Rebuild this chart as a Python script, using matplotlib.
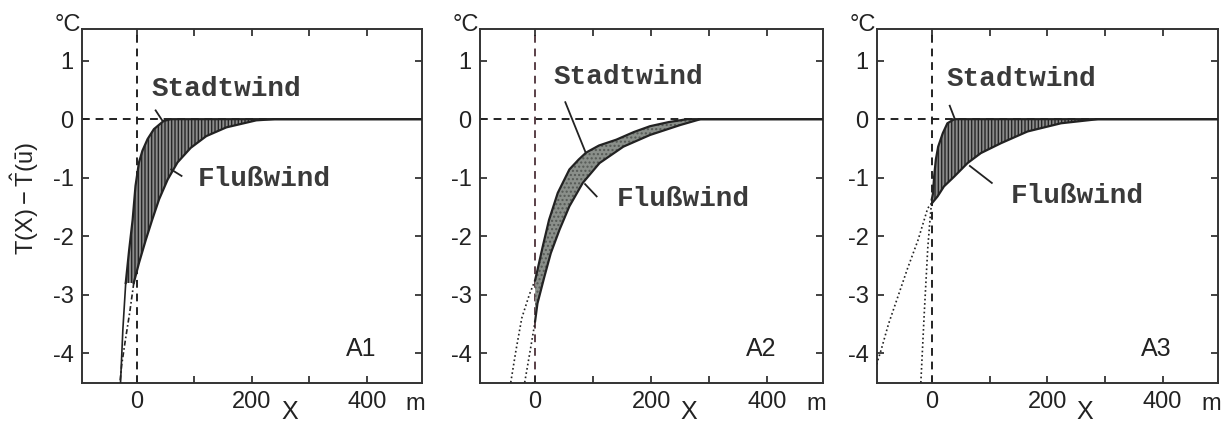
import matplotlib
matplotlib.use("Agg")
import matplotlib.pyplot as plt

plt.rcParams['font.family'] = ['Liberation Sans', 'DejaVu Sans']
plt.rcParams['axes.unicode_minus'] = False
plt.rcParams['mathtext.default'] = 'regular'
plt.rcParams['hatch.linewidth'] = 1.0

# --- data (x in m, y in degC) ---
a1_stadt_x = [-19, -13, -7, -2, 4, 10, 19, 30, 47, 60, 495]
a1_stadt_y = [-2.8, -2.23, -1.72, -1.14, -0.74, -0.54, -0.34, -0.17, -0.03, 0, 0]
a1_fluss_x = [-5, 4, 16, 27, 39, 54, 71, 94, 121, 156, 208, 240, 495]
a1_fluss_y = [-2.8, -2.46, -2.06, -1.72, -1.37, -1.03, -0.74, -0.49, -0.29, -0.14, -0.02, 0, 0]
a1_stadt_ext_x = [-19, -24, -28]
a1_stadt_ext_y = [-2.8, -3.6, -4.5]
a1_fluss_ext_x = [-5, -12, -20, -26, -29]
a1_fluss_ext_y = [-2.8, -3.3, -3.8, -4.2, -4.5]

a2_stadt_x = [0, 4, 13, 24, 39, 59, 75, 88, 110, 140, 170, 198, 230, 262, 495]
a2_stadt_y = [-2.75, -2.58, -2.18, -1.72, -1.26, -0.86, -0.69, -0.57, -0.45, -0.35, -0.22, -0.12, -0.05, 0, 0]
a2_fluss_x = [0, 4, 10, 16, 27, 42, 59, 82, 111, 152, 198, 250, 285, 495]
a2_fluss_y = [-3.45, -3.15, -2.92, -2.69, -2.29, -1.89, -1.49, -1.09, -0.75, -0.47, -0.27, -0.1, 0, 0]
a2_stadt_ext_x = [0, -10, -23, -33, -42]
a2_stadt_ext_y = [-2.75, -3.0, -3.4, -3.95, -4.5]
a2_fluss_ext_x = [0, -5, -11, -18]
a2_fluss_ext_y = [-3.45, -3.75, -4.1, -4.5]

a3_stadt_x = [0, 2, 4, 7, 11, 19, 27, 39, 495]
a3_stadt_y = [-1.37, -1.27, -0.98, -0.69, -0.47, -0.24, -0.07, 0, 0]
a3_fluss_x = [0, 10, 21, 39, 62, 85, 120, 166, 224, 288, 495]
a3_fluss_y = [-1.44, -1.32, -1.15, -0.98, -0.75, -0.58, -0.41, -0.21, -0.07, 0, 0]
a3_stadt_ext_x = [0, -3, -7, -13, -19]
a3_stadt_ext_y = [-1.37, -1.7, -2.2, -3.3, -4.5]
a3_fluss_ext_x = [0, -7, -24, -42, -59, -75, -88, -96]
a3_fluss_ext_y = [-1.44, -1.52, -2.07, -2.55, -3.04, -3.5, -3.95, -4.2]

panel_names = ['A1', 'A2', 'A3']
x_ticks = [0, 100, 200, 300, 400]
x_ticklabels = ['0', '', '200', '', '400']
y_ticks = [-4, -3, -2, -1, 0, 1]

# label / pointer positions (data coords)
stadt_text = [(26, 0.51), (31, 0.72), (26, 0.69)]
stadt_ptr = [((33, 0.15), (45, -0.03)), ((52, 0.29), (87, -0.57)), ((31, 0.23), (40, 0.0))]
fluss_text = [(106, -1.03), (141, -1.37), (136, -1.32)]
fluss_ptr = [((78, -0.97), (60, -0.86)), ((106, -1.32), (86, -1.11)), ((104, -1.09), (66, -0.8))]

panels = [
    (a1_stadt_x, a1_stadt_y, a1_fluss_x, a1_fluss_y,
     a1_stadt_ext_x, a1_stadt_ext_y, a1_fluss_ext_x, a1_fluss_ext_y),
    (a2_stadt_x, a2_stadt_y, a2_fluss_x, a2_fluss_y,
     a2_stadt_ext_x, a2_stadt_ext_y, a2_fluss_ext_x, a2_fluss_ext_y),
    (a3_stadt_x, a3_stadt_y, a3_fluss_x, a3_fluss_y,
     a3_stadt_ext_x, a3_stadt_ext_y, a3_fluss_ext_x, a3_fluss_ext_y),
]

W, H = 1226, 425
fig = plt.figure(figsize=(W / 100, H / 100), dpi=100)
boxes = [(82, 422), (480, 823), (877, 1218)]
top, bottom = 28.5, 383

ink = '#222222'
mono = ['Liberation Mono', 'DejaVu Sans Mono']

for i, (px0, px1) in enumerate(boxes):
    ax = fig.add_axes([px0 / W, (H - bottom) / H, (px1 - px0) / W, (bottom - top) / H])
    sx, sy, fx, fy, sex, sey, fex, fey = panels[i]

    ax.axhline(0, color=ink, lw=1.4, ls=(0, (4, 3)), zorder=1)
    ax.axvline(0, color='#5a4048' if i == 1 else ink, lw=1.4, ls=(0, (4, 3)), zorder=1)

    poly_x = list(sx) + list(fx)[::-1]
    poly_y = list(sy) + list(fy)[::-1]
    if i == 1:
        ax.fill(poly_x, poly_y, facecolor='#8a8f8a', edgecolor='#555955',
                hatch='....', lw=0, zorder=2)
    else:
        ax.fill(poly_x, poly_y, facecolor='#8c8c8c', edgecolor='#262626',
                hatch='|||||', lw=0, zorder=2)

    ax.plot(sx, sy, color=ink, lw=1.6, zorder=3)
    ax.plot(fx, fy, color=ink, lw=1.6, zorder=3)
    ext_style = '-' if i == 0 else (0, (1, 1.6))
    ax.plot(sex, sey, color=ink, lw=1.2, ls=ext_style, zorder=3)
    ax.plot(fex, fey, color=ink, lw=1.2,
            ls=(0, (1, 1.6)) if i else (0, (3, 1.5, 1, 1.5)), zorder=3)

    ax.text(stadt_text[i][0], stadt_text[i][1], 'Stadtwind', ha='left', va='center',
            fontsize=20, family=mono, weight='bold', color='#3a3a3a')
    ax.plot([stadt_ptr[i][0][0], stadt_ptr[i][1][0]],
            [stadt_ptr[i][0][1], stadt_ptr[i][1][1]], color=ink, lw=1.3, zorder=4)
    ax.text(fluss_text[i][0], fluss_text[i][1], 'Flußwind', ha='left', va='center',
            fontsize=20, family=mono, weight='bold', color='#3a3a3a')
    ax.plot([fluss_ptr[i][0][0], fluss_ptr[i][1][0]],
            [fluss_ptr[i][0][1], fluss_ptr[i][1][1]], color=ink, lw=1.3, zorder=4)

    ax.text(0.775, 0.095, panel_names[i], transform=ax.transAxes, ha='left',
            va='center', fontsize=18, color=ink)
    ax.text(-0.003, 1.01, '°C', transform=ax.transAxes, ha='right', va='center',
            fontsize=17, color=ink)
    ax.text(0.98, -0.058, 'm', transform=ax.transAxes, ha='center', va='center',
            fontsize=17, color=ink)
    ax.text(0.61, -0.083, 'X', transform=ax.transAxes, ha='center', va='center',
            fontsize=18, color=ink)

    ax.set_xlim(-95, 496)
    ax.set_ylim(-4.51, 1.55)
    ax.set_xticks(x_ticks)
    ax.set_xticklabels(x_ticklabels)
    ax.set_yticks(y_ticks)
    ax.tick_params(direction='in', length=5, width=1.2, top=True, right=True,
                   labelsize=17, colors=ink, pad=6)
    for sp in ax.spines.values():
        sp.set_linewidth(1.4)
        sp.set_color('#333333')

    if i == 0:
        ax.set_ylabel(r'$T(X) - \hat{T}(\bar{u})$', fontsize=17, color=ink)
        ax.yaxis.set_label_coords(-0.12, 0.52)

fig.savefig('out.png', dpi=100)
